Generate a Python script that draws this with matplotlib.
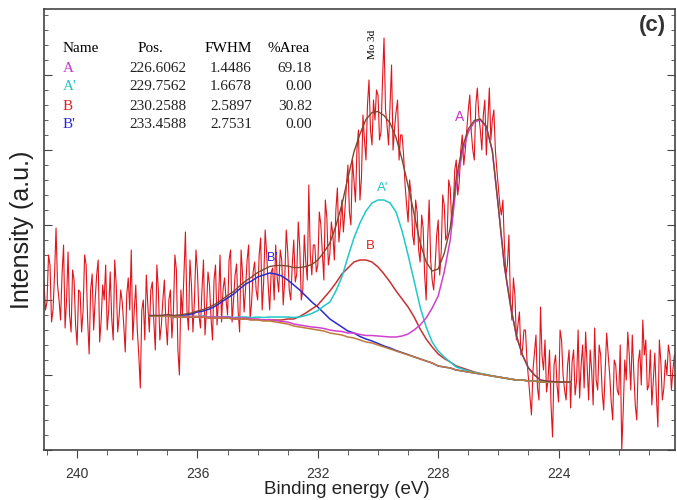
"""
Mo 3d XPS spectrum with peak fit components, panel (c)
"""

import numpy as np
import matplotlib
matplotlib.use("Agg")
from matplotlib import pyplot as plt
from matplotlib.ticker import MultipleLocator

plt.rcParams['font.family'] = ['Liberation Sans', 'DejaVu Sans']

# measured spectrum: points at 241.1, 241.0, ... eV (counts) and the
# readings half way between them (counts_half), scan step 0.05 eV
scan_start = 241.1
scan_step = 0.05
counts = [
    168, 148, 185, 140, 222, 150, 176, 122, 198, 118,
    170, 105, 158, 140, 185, 96, 176, 150, 190, 130,
    150, 120, 178, 110, 165, 135, 148, 98, 172, 200,
    140, 120, 62, 150, 175, 118, 168, 100, 160, 125,
    170, 105, 160, 138, 180, 75, 135, 218, 120, 165,
    150, 178, 122, 190, 140, 165, 110, 185, 150, 128,
    172, 135, 200, 150, 186, 118, 175, 162, 205, 148,
    188, 150, 212, 168, 196, 140, 182, 205, 158, 190,
    170, 198, 150, 210, 176, 202, 160, 188, 265, 175,
    205, 185, 225, 170, 232, 196, 215, 240, 208, 250,
    240, 285, 225, 270, 300, 250, 335, 290, 370, 305,
    330, 355, 318, 412, 325, 345, 300, 338, 290, 315,
    265, 228, 255, 205, 238, 188, 222, 150, 250, 170,
    185, 230, 198, 245, 215, 262, 240, 290, 268, 315,
    300, 340, 318, 290, 362, 320, 335, 295, 362, 330,
    300, 262, 235, 205, 185, 150, 172, 110, 138, 100,
    120, 72, 35, 98, 62, 143, 80, 58, 100, 13,
    95, 48, 110, 60, 85, 42, 100, 70, 52, 105,
    118, 50, 80, 122, 60, 95, 40, 117, 75, 30,
    85, 55, 0, 90, 118, 60, 78, 30, 100, 130,
    110, 65, 45, 97, 23, 88, 62, 75, 95, 80,
]
counts_half = [
    140, 195, 128, 175, 165, 130, 205, 150, 135, 180,
    125, 160, 118, 195, 130, 160, 120, 175, 108, 165,
    185, 140, 132, 190, 118, 160, 125, 155, 140, 110,
    165, 95, 140, 110, 145, 160, 128, 185, 110, 150,
    128, 150, 112, 195, 100, 160, 175, 140, 190, 118,
    200, 135, 160, 115, 178, 132, 170, 125, 195, 160,
    150, 190, 128, 175, 140, 200, 138, 190, 130, 178,
    160, 195, 140, 220, 165, 178, 150, 172, 200, 145,
    220, 160, 185, 168, 228, 150, 215, 170, 195, 205,
    178, 238, 198, 250, 185, 228, 190, 262, 225, 218,
    265, 238, 290, 248, 320, 272, 310, 345, 320, 350,
    360, 310, 370, 340, 305, 385, 322, 350, 315, 295,
    245, 270, 215, 250, 200, 235, 175, 210, 190, 160,
    215, 175, 255, 210, 270, 225, 280, 255, 300, 285,
    320, 355, 300, 345, 335, 300, 350, 328, 310, 340,
    280, 245, 250, 175, 215, 130, 155, 125, 95, 120,
    90, 55, 80, 115, 50, 95, 110, 70, 45, 85,
    65, 120, 75, 50, 100, 88, 55, 120, 85, 62,
    85, 100, 45, 70, 105, 58, 80, 95, 48, 90,
    60, 105, 40, 70, 95, 115, 45, 88, 65, 95,
    60, 100, 70, 55, 110, 50, 90, 105, 60, 95,
]

# fit curves, one point every 0.2 eV starting at 237.6 eV
fit_start = 237.6
fit_step = 0.2
background = [
    134, 134, 134, 134, 133, 133, 133, 133, 133, 133,
    132, 132, 132, 132, 131, 131, 131, 130, 130, 129,
    129, 128, 127, 126, 124, 123, 122, 121, 120, 119,
    117, 116, 115, 113, 112, 110, 108, 107, 105, 103,
    101, 99, 97, 95, 93, 91, 89, 87, 84, 83,
    82, 80, 79, 78, 77, 76, 75, 74, 73, 72,
    71, 70, 70, 69, 69, 68, 68, 68, 68, 68, 68,
]
# component heights above the background
peak_A = [
    0.5, 0.5, 0.5, 0.5, 0.5, 0.5, 0.5, 0.5, 0.5, 0.5,
    1, 1, 1, 1, 1, 1, 1, 1, 1, 1,
    1.5, 1.5, 1.5, 2, 2, 2, 2, 2, 2.5, 2.5,
    3, 3, 3.5, 4, 5, 5.5, 6.5, 7.5, 9, 10.5,
    12, 14, 17, 21, 27, 34, 43, 55, 70, 95,
    128, 185, 218, 240, 251, 254, 248, 225, 170, 112,
    74, 44, 25, 13, 6, 2, 1, 0.5, 0, 0, 0,
]
peak_A2 = [
    0, 0, 0, 0, 0, 0.5, 0.5, 0.5, 0.5, 1,
    1, 1, 1, 1.5, 1.5, 2, 2, 2.5, 3, 3.5,
    4, 5, 6, 7, 8.5, 10, 12.5, 15.5, 19.5, 25,
    31, 43, 58, 80, 100, 117, 131, 140, 145, 147,
    146, 139, 122, 100, 76, 52, 34, 21, 15, 10,
    6, 3, 2, 1, 0.5, 0.5, 0.5, 0, 0, 0,
    0, 0, 0, 0, 0, 0, 0, 0, 0, 0, 0,
]
peak_B = [
    0, 0, 0, 0, 0, 0, 0, 0, 0, 0,
    0, 0, 0, 0, 0, 0, 0, 0.5, 0.5, 1,
    1, 2, 3, 5, 7, 10.5, 15, 20, 25, 33,
    42, 51, 61, 69, 76, 80, 82, 81, 78, 73,
    67, 60, 54, 48, 40, 30, 22, 16, 12, 8.5,
    6, 4, 3, 2, 1, 0.5, 0.3, 0, 0, 0,
    0, 0, 0, 0, 0, 0, 0, 0, 0, 0, 0,
]
peak_B2 = [
    0, 0, 0, 1, 1, 1, 2, 3, 5, 6,
    9, 12, 16, 20, 25, 30, 35, 39, 43, 46,
    48, 48, 47, 44, 41, 37, 32, 27, 23, 18,
    14, 11, 8, 6, 5, 3.5, 3, 2, 1.5, 1,
    1, 0.5, 0.4, 0.3, 0.2, 0.1, 0, 0, 0, 0,
    0, 0, 0, 0, 0, 0, 0, 0, 0, 0,
    0, 0, 0, 0, 0, 0, 0, 0, 0, 0, 0,
]

# fit table
peak_names = ["A", "A'", "B", "B'"]
peak_pos = [226.6062, 229.7562, 230.2588, 233.4588]
peak_fwhm = [1.4486, 1.6678, 2.5897, 2.7531]
peak_area = [69.18, 0.00, 30.82, 0.00]
peak_colors = ['#cc33cc', '#22c4c4', '#dd2222', '#2a2ad0']

W, H = 677, 500


def fx(px):
    return px / W


def fy(py):
    return 1 - py / H


fig = plt.figure(figsize=(W / 100, H / 100), dpi=100)
ax = fig.add_axes([fx(44), fy(450), 631 / W, 441 / H])

signal = np.column_stack([counts, counts_half]).ravel()
energy = scan_start - scan_step * np.arange(len(signal))
ax.plot(energy, signal, color='#e3141c', lw=0.8, zorder=2)

fit_e = fit_start - fit_step * np.arange(len(background))
bg = np.array(background)
comps = [np.array(c) for c in (peak_A, peak_A2, peak_B, peak_B2)]
line_colors = ['#d040d0', '#20c8c8', '#c83030', '#2a2ad0']
for comp, col in zip(comps[::-1], line_colors[::-1]):
    ax.plot(fit_e, bg + comp, color=col, lw=1.1, zorder=3)
ax.plot(fit_e, bg, color='#c07a3a', lw=1.1, zorder=4)
ax.plot(fit_e, bg + sum(comps), color='#7a4a30', lw=1.0, zorder=4)

# peak labels
ax.text(227.28, 333, 'A', color=peak_colors[0], fontsize=10,
        ha='center', va='center')
ax.text(229.83, 262, "A'", color=peak_colors[1], fontsize=9.5,
        ha='center', va='center')
ax.text(230.27, 204, 'B', color=peak_colors[2], fontsize=9.5,
        ha='center', va='center')
ax.text(233.52, 192, "B'", color=peak_colors[3], fontsize=9,
        ha='center', va='center')
ax.text(230.17, 406, 'Mo 3d', rotation=90, fontsize=8,
        family='Liberation Serif', ha='center', va='center')

ax.set_xlim(241.1, 220.13)
ax.set_ylim(0, 441)
ax.xaxis.set_major_locator(MultipleLocator(4))
ax.xaxis.set_minor_locator(MultipleLocator(1))
ax.yaxis.set_major_locator(MultipleLocator(75))
ax.yaxis.set_minor_locator(MultipleLocator(15))
ax.tick_params(axis='y', which='both', direction='in', left=True,
               right=True, labelleft=False, color='#444')
ax.tick_params(axis='y', which='major', length=6)
ax.tick_params(axis='y', which='minor', length=3)
ax.tick_params(axis='x', which='both', direction='out', top=False,
               color='#444')
ax.tick_params(axis='x', which='major', length=6, labelsize=10,
               labelcolor='#333', pad=6)
ax.tick_params(axis='x', which='minor', length=3.5)
for sp in ax.spines.values():
    sp.set_color('#444')
    sp.set_linewidth(1.2)

# fit results table
serif = 'Liberation Serif'
rows_py = [68, 87, 107, 125]
fig.text(fx(63), fy(48), 'Name', family=serif, fontsize=11, va='center')
fig.text(fx(138), fy(48), 'Pos.', family=serif, fontsize=11, va='center')
fig.text(fx(205), fy(48), 'FWHM', family=serif, fontsize=11, va='center')
fig.text(fx(268), fy(48), '%Area', family=serif, fontsize=11, va='center')
for i, py in enumerate(rows_py):
    fig.text(fx(63), fy(py), peak_names[i], color=peak_colors[i],
             family=serif, fontsize=11, va='center')
    fig.text(fx(187), fy(py), '%.4f' % peak_pos[i], family=serif,
             fontsize=11, va='center', ha='right', color='#222')
    fig.text(fx(252), fy(py), '%.4f' % peak_fwhm[i], family=serif,
             fontsize=11, va='center', ha='right', color='#222')
    fig.text(fx(312), fy(py), '%.2f' % peak_area[i], family=serif,
             fontsize=11, va='center', ha='right', color='#222')

fig.text(fx(652), fy(26), '(c)', fontsize=16, fontweight='bold',
         color='#333', ha='center', va='center')
fig.text(fx(22), fy(230), 'Intensity (a.u.)', rotation=90, fontsize=18,
         color='#222', ha='center', va='center')
fig.text(fx(347), fy(489), 'Binding energy (eV)', fontsize=13.5,
         color='#222', ha='center', va='center')

fig.savefig('out.png', dpi=100)
